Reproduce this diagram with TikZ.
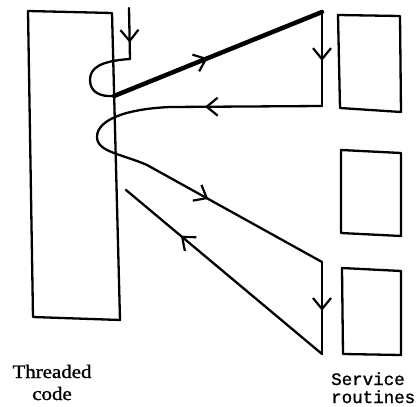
\documentclass[tikz,border=0pt]{standalone}
\usepackage{fontspec}
\setmainfont{Liberation Serif}
\setmonofont{Liberation Mono}
\newfontfamily\thrfont[FakeBold=1.2]{Liberation Serif}
\newfontfamily\svcfont[FakeBold=1.2]{Liberation Mono}
\usetikzlibrary{arrows.meta,decorations.markings}
\tikzset{
  wire/.style={line width=2.3pt, line cap=round, line join=round},
  boldwire/.style={line width=4.5pt, line cap=round},
  midarrow/.style={postaction={decorate, decoration={markings, mark=at position #1 with {\arrow{Straight Barb[length=11pt,width=18pt,line width=2.2pt]}}}}},
  box/.style={line width=2.3pt, line join=round},
  lbl/.style={inner sep=0pt},
}
\begin{document}
\begin{tikzpicture}[x=1pt,y=-1pt]
\useasboundingbox (0,0) rectangle (416,407);
% threaded code block
\coordinate (tl) at (28,11); \coordinate (tr) at (112,13);
\coordinate (br) at (120,320); \coordinate (bl) at (33,317);
\draw[box] (tl) -- (tr) -- (br) -- (bl) -- cycle;
% service routine boxes
\draw[box] (338,15) -- (400,16) -- (401,112) -- (340,108) -- cycle;
\draw[box] (341,150) -- (401,153) -- (401,236) -- (341,233) -- cycle;
\draw[box] (342,268) -- (401,271) -- (401,355) -- (343,354) -- cycle;
% path coordinates
\coordinate (in) at (129,8);
\coordinate (in1) at (130,59);
\coordinate (t1) at (114,96);
\coordinate (s1top) at (322,12);
\coordinate (s1bot) at (322,106);
\coordinate (h2) at (170,107);
\coordinate (c2) at (147,165);
\coordinate (s3top) at (322,262);
\coordinate (s3bot) at (322,354);
\coordinate (ret) at (126,190);
% incoming
\draw[wire, midarrow=0.68] (in) -- (in1);
\draw[wire] (in1) .. controls (100,61) and (90,68) .. (90,80)
  .. controls (90,92) and (100,97) .. (t1);
\draw[boldwire, midarrow=0.45] (t1) -- (s1top);
\draw[wire, midarrow=0.52] (s1top) -- (s1bot);
\draw[wire, midarrow=0.77] (s1bot) -- (h2);
\draw[wire] (h2) .. controls (125,109) and (97,120) .. (97,137)
  .. controls (97,152) and (122,154) .. (c2);
\draw[wire, midarrow=0.35] (c2) -- (s3top);
\draw[wire, midarrow=0.53] (s3top) -- (s3bot);
\draw[wire, midarrow=0.72] (s3bot) -- (ret);
% labels
\node[lbl, anchor=base] (thr) at (52,378) {\fontsize{19}{22}\thrfont\scalebox{1.1}[1]{Threaded}};
\node[lbl, anchor=base] (cod) at (52,400) {\fontsize{19}{22}\thrfont\scalebox{1.1}[1]{code}};
\node[lbl, anchor=base west] (svc) at (331,385) {\fontsize{17.5}{18}\svcfont Service};
\node[lbl, anchor=base west] (rtn) at (331,403) {\fontsize{17.5}{18}\svcfont routines};
\end{tikzpicture}
\end{document}
